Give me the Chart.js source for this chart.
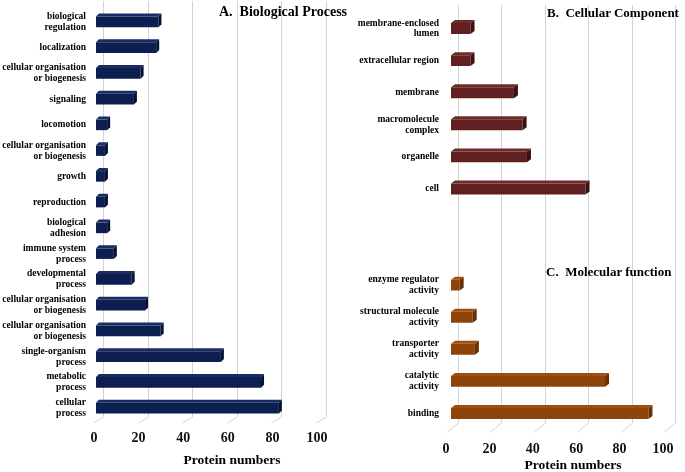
<!DOCTYPE html>
<html>
<head>
<meta charset="utf-8">
<script src="https://cdn.jsdelivr.net/npm/chart.js@4"></script>
<style>
  html, body { margin:0; padding:0; background:#fff; }
  body { width:685px; height:472px; position:relative; overflow:hidden; }
  canvas { position:absolute; top:0; }
  .t { position:absolute; font-family:"Liberation Serif", "Times New Roman", serif; font-weight:bold; color:#000; white-space:pre; }
  .h { font-size:14px; line-height:14px; }
  .h2 { font-size:13px; line-height:13px; }
  .ax { font-size:13.5px; line-height:13.5px; width:200px; text-align:center; }
</style>
</head>
<body>
<canvas id="c1" width="340" height="472" style="left:0"></canvas>
<canvas id="c2" width="345" height="472" style="left:340px"></canvas>
<div class="t h" style="left:219px;top:5px">A.  Biological Process</div>
<div class="t h2" style="left:547px;top:6px">B.  Cellular Component</div>
<div class="t h2" style="left:546px;top:265px">C.  Molecular function</div>
<div class="t ax" style="left:132px;top:453px">Protein numbers</div>
<div class="t ax" style="left:473px;top:458px">Protein numbers</div>
<script>
// ---- data ----
const bpLabels = [["biological","regulation"],"localization",["cellular organisation","or biogenesis"],"signaling","locomotion",["cellular organisation","or biogenesis"],"growth","reproduction",["biological","adhesion"],["immune system","process"],["developmental","process"],["cellular organisation","or biogenesis"],["cellular organisation","or biogenesis"],["single-organism","process"],["metabolic","process"],["cellular","process"]];
const bpValues = [28,27,20,17,5,4,4,4,5,8,16,22,29,56,74,82];
const ccLabels = [["membrane-enclosed","lumen"],"extracellular region","membrane",["macromolecule","complex"],"organelle","cell"];
const ccValues = [9,9,29,33,35,62];
const mfLabels = [["enzyme regulator","activity"],["structural molecule","activity"],["transporter","activity"],["catalytic","activity"],"binding"];
const mfValues = [4,10,11,71,91];
const xMin = 0, xMax = 100, xStep = 20;

// ---- colours ----
const navy = {front:'#0c1f50', top:'#1a2d62', side:'#061234'};
const maroon = {front:'#602020', top:'#6e2b2b', side:'#3c1111'};
const brown = {front:'#8e4309', top:'#a04f12', side:'#663004'};

const SERIF = '"Liberation Serif", "Times New Roman", serif';

const bar3d = {
  id: 'bar3d',
  beforeDatasetsDraw(chart, args, o) {
    const {ctx, chartArea: ca, scales: {x}} = chart;
    ctx.save();
    ctx.strokeStyle = o.gridColor;
    ctx.lineWidth = 1;
    x.ticks.forEach(t => {
      const p = Math.round(x.getPixelForValue(t.value));
      ctx.beginPath();
      ctx.moveTo(p + o.back + 0.5, o.gridTop);
      ctx.lineTo(p + o.back + 0.5, ca.bottom - o.floorBack);
      ctx.lineTo(p - o.front + 0.5, ca.bottom + o.floorFront);
      ctx.stroke();
    });
    ctx.restore();
  },
  afterDatasetsDraw(chart, args, o) {
    const {ctx} = chart;
    ctx.save();
    chart.data.datasets.forEach((ds, di) => {
      const meta = chart.getDatasetMeta(di);
      meta.data.forEach((el, i) => {
        if (ds.data[i] == null) return;
        const p = el.getProps(['x','y','base','height'], true);
        const top = p.y - p.height / 2, bot = p.y + p.height / 2;
        const dx = o.dx, dy = o.dy;
        ctx.fillStyle = ds.topColors[i];
        ctx.beginPath();
        ctx.moveTo(p.base, top);
        ctx.lineTo(p.x, top);
        ctx.lineTo(p.x + dx, top - dy);
        ctx.lineTo(p.base + dx, top - dy);
        ctx.closePath();
        ctx.fill();
        ctx.fillStyle = ds.sideColors[i];
        ctx.beginPath();
        ctx.moveTo(p.x, top);
        ctx.lineTo(p.x + dx, top - dy);
        ctx.lineTo(p.x + dx, bot - dy);
        ctx.lineTo(p.x, bot);
        ctx.closePath();
        ctx.fill();
      });
    });
    ctx.restore();
  }
};

function makeChart(id, labels, values, cols, g) {
  return new Chart(document.getElementById(id), {
    type: 'bar',
    data: {
      labels: labels,
      datasets: [{
        data: values,
        backgroundColor: cols.map(c => c.front),
        topColors: cols.map(c => c.top),
        sideColors: cols.map(c => c.side),
        borderWidth: 0,
        barPercentage: g.barPct,
        categoryPercentage: 1
      }]
    },
    options: {
      indexAxis: 'y',
      responsive: false,
      devicePixelRatio: 1,
      animation: false,
      layout: { padding: { top: g.top, right: g.right, bottom: 0, left: 0 } },
      plugins: {
        legend: { display: false },
        tooltip: { enabled: false },
        bar3d: { gridColor: '#d3d3d3', back: g.back, front: g.front, floorBack: g.floorBack, floorFront: g.floorFront, gridTop: g.gridTop, dx: g.dx, dy: g.dy }
      },
      scales: {
        x: {
          min: xMin, max: xMax,
          grid: { display: false, drawTicks: false },
          border: { display: false },
          ticks: { stepSize: xStep, color: '#111', padding: g.xPad, labelOffset: g.labelOffset, font: { family: SERIF, size: 14, weight: 'bold' } },
          afterFit(s) { s.height = g.xHeight; s.paddingLeft = 0; s.paddingRight = 0; }
        },
        y: {
          grid: { display: false, drawTicks: false },
          border: { display: false },
          ticks: { color: '#000', padding: g.yPad, autoSkip: false, font: { family: SERIF, size: 9.5, weight: 'bold', lineHeight: 1.15 } },
          afterFit(s) { s.width = g.yWidth; s.paddingTop = 0; s.paddingBottom = 0; }
        }
      }
    },
    plugins: [bar3d]
  });
}

makeChart('c1', bpLabels, bpValues, bpValues.map(() => navy), {
  barPct: 0.41, top: 9, right: 21, xHeight: 51, yWidth: 96, xPad: 9, yPad: 10, labelOffset: -2,
  back: 7, front: 3, floorBack: 4, floorFront: 2, gridTop: 1, dx: 3, dy: 3
});

const rLabels = ccLabels.concat(['', ''], mfLabels);
const rValues = ccValues.concat([null, null], mfValues);
const rCols = ccValues.map(() => maroon).concat([maroon, maroon], mfValues.map(() => brown));
makeChart('c2', rLabels, rValues, rCols, {
  barPct: 0.34, top: 12.5, right: 17, xHeight: 42.5, yWidth: 111, xPad: 11, yPad: 12, labelOffset: -5,
  back: 7, front: 4, floorBack: 6.5, floorFront: 2.5, gridTop: 5, dx: 4, dy: 3
});
</script>
</body>
</html>
